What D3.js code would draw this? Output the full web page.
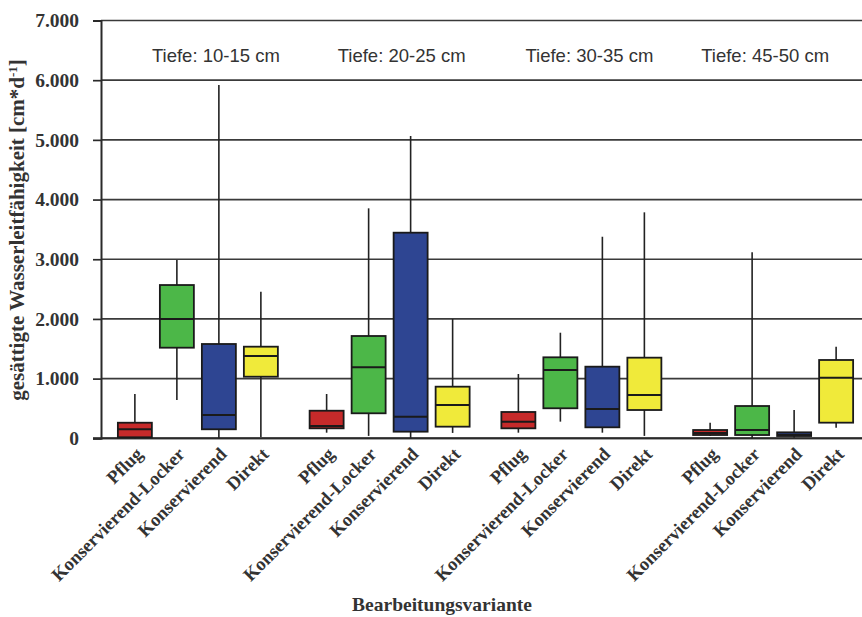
<!DOCTYPE html>
<html>
<head>
<meta charset="utf-8">
<script src="https://cdn.jsdelivr.net/npm/d3@7"></script>
<style>
  html, body { margin: 0; padding: 0; background: #fff; }
  svg { display: block; }
</style>
</head>
<body>
<svg id="chart" width="862" height="617"></svg>
<script>
// Soil depths and tillage variants
const depths = ["10-15 cm", "20-25 cm", "30-35 cm", "45-50 cm"];
const variants = ["Pflug", "Konservierend-Locker", "Konservierend", "Direkt"];
const yTicks = [0, 1000, 2000, 3000, 4000, 5000, 6000, 7000];

// Five-number summaries per depth: [whisker low, Q1, median, Q3, whisker high]
const pflug = [
  [0, 17, 151, 261, 742],
  [94, 167, 206, 462, 742],
  [94, 167, 279, 441, 1077],
  [40, 55, 90, 139, 261]
];
const konservierendLocker = [
  [642, 1518, 1998, 2568, 2987],
  [40, 419, 1189, 1714, 3853],
  [279, 503, 1144, 1357, 1769],
  [0, 55, 139, 541, 3116]
];
const konservierend = [
  [0, 151, 390, 1580, 5918],
  [0, 111, 362, 3445, 5065],
  [94, 184, 491, 1200, 3377],
  [10, 38, 60, 100, 474]
];
const direkt = [
  [20, 1032, 1379, 1535, 2456],
  [90, 195, 558, 865, 1999],
  [40, 474, 725, 1351, 3786],
  [178, 262, 1015, 1312, 1535]
];

const seriesByVariant = [pflug, konservierendLocker, konservierend, direkt];
const colors = ["#c62a2a", "#4cb748", "#2e4592", "#f0ea3a"];

const svg = d3.select("#chart");
const plot = { left: 101, right: 869, top: 20.5, bottom: 438.3 };
const serif = "'Liberation Serif', 'Times New Roman', serif";

const y = d3.scaleLinear().domain([0, 7000]).range([plot.bottom, plot.top]);
const xGroup = d3.scaleBand().domain(depths).range([plot.left + 1, plot.right]);
const xInner = d3.scalePoint().domain(variants).range([-63, 63]);
const boxW = 34;
const cx = (d, v) => xGroup(d) + xGroup.bandwidth() / 2 + xInner(v);

const de = d3.formatLocale({ decimal: ",", thousands: ".", grouping: [3], currency: ["", " €"] });
const fmt = de.format(",");

// horizontal grid lines
svg.append("g")
  .selectAll("line")
  .data(yTicks)
  .join("line")
  .attr("x1", plot.left)
  .attr("x2", 862)
  .attr("y1", d => y(d))
  .attr("y2", d => y(d))
  .attr("stroke", "#3a3a3a")
  .attr("stroke-width", 1.7);

// y axis
const yAxis = svg.append("g")
  .attr("transform", `translate(${plot.left},0)`)
  .call(d3.axisLeft(y).tickValues(yTicks).tickFormat(fmt).tickSize(8).tickPadding(14));
yAxis.select(".domain").attr("stroke", "#2a2a2a").attr("stroke-width", 2);
yAxis.selectAll(".tick line").attr("stroke", "#2a2a2a").attr("stroke-width", 1.7);
yAxis.selectAll(".tick text")
  .attr("font-family", serif)
  .attr("font-weight", "bold")
  .attr("font-size", 19.5)
  .attr("fill", "#333");

// x axis baseline
svg.append("line")
  .attr("x1", plot.left - 8).attr("x2", 862)
  .attr("y1", y(0)).attr("y2", y(0))
  .attr("stroke", "#2a2a2a").attr("stroke-width", 2);

// depth captions
const depthLabelShift = [18, 12, 8, -8];
svg.append("g")
  .selectAll("text")
  .data(depths)
  .join("text")
  .attr("x", (d, i) => xGroup(d) + xGroup.bandwidth() / 2 + depthLabelShift[i])
  .attr("y", 62)
  .attr("text-anchor", "middle")
  .attr("font-family", "'Liberation Sans', Arial, sans-serif")
  .attr("font-size", 18.5)
  .attr("fill", "#333")
  .text(d => "Tiefe: " + d);

// boxes
const boxes = [];
depths.forEach((d, di) => {
  variants.forEach((v, vi) => {
    const s = seriesByVariant[vi][di];
    boxes.push({ depth: d, variant: v, color: colors[vi], lo: s[0], q1: s[1], med: s[2], q3: s[3], hi: s[4] });
  });
});

const bg = svg.append("g").selectAll("g").data(boxes).join("g");

bg.append("line")
  .attr("x1", b => cx(b.depth, b.variant))
  .attr("x2", b => cx(b.depth, b.variant))
  .attr("y1", b => y(b.hi))
  .attr("y2", b => y(b.lo))
  .attr("stroke", "#222")
  .attr("stroke-width", 1.6);

bg.append("rect")
  .attr("x", b => cx(b.depth, b.variant) - boxW / 2)
  .attr("width", boxW)
  .attr("y", b => y(b.q3))
  .attr("height", b => y(b.q1) - y(b.q3))
  .attr("fill", b => b.color)
  .attr("stroke", "#1a1a1a")
  .attr("stroke-width", 1.8);

bg.append("line")
  .attr("x1", b => cx(b.depth, b.variant) - boxW / 2)
  .attr("x2", b => cx(b.depth, b.variant) + boxW / 2)
  .attr("y1", b => y(b.med))
  .attr("y2", b => y(b.med))
  .attr("stroke", "#1a1a1a")
  .attr("stroke-width", 2);

// rotated category labels
svg.append("g")
  .selectAll("text")
  .data(boxes)
  .join("text")
  .attr("transform", b => `translate(${cx(b.depth, b.variant) + 9},${y(0) + 17}) rotate(-45)`)
  .attr("text-anchor", "end")
  .attr("font-family", serif)
  .attr("font-weight", "bold")
  .attr("font-size", 18.5)
  .attr("fill", "#333")
  .text(b => b.variant);

// axis titles
svg.append("text")
  .attr("x", 442)
  .attr("y", 611)
  .attr("text-anchor", "middle")
  .attr("font-family", serif)
  .attr("font-weight", "bold")
  .attr("font-size", 19.5)
  .attr("fill", "#333")
  .text("Bearbeitungsvariante");

const yTitle = svg.append("text")
  .attr("transform", "translate(24,230) rotate(-90)")
  .attr("text-anchor", "middle")
  .attr("font-family", serif)
  .attr("font-weight", "bold")
  .attr("font-size", 21)
  .attr("fill", "#333");
yTitle.append("tspan").text("gesättigte Wasserleitfähigkeit [cm*d");
yTitle.append("tspan").attr("dy", -7).attr("font-size", 13).text("-1");
yTitle.append("tspan").attr("dy", 7).text("]");
</script>
</body>
</html>
